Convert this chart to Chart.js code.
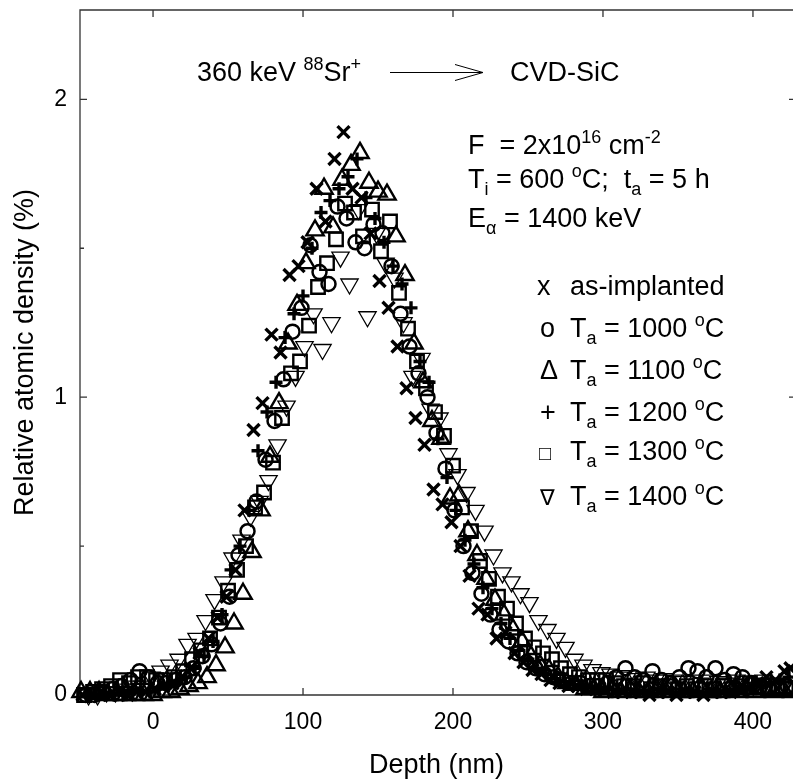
<!DOCTYPE html>
<html>
<head>
<meta charset="utf-8">
<script src="https://cdn.jsdelivr.net/npm/chart.js@4.4.0/dist/chart.umd.min.js"></script>
<style>
  html, body { margin: 0; padding: 0; background: #fff; }
  #wrap { width: 793px; height: 782px; }
</style>
</head>
<body>
<div id="wrap"><canvas id="chart" width="793" height="782"></canvas></div>
<script>
const FONT = '"Liberation Sans", Arial, Helvetica, sans-serif';

// Axis ticks
const xTicks = [0, 100, 200, 300, 400];
const yTicks = [0, 1, 2];
const yMinorTicks = [0.5, 1.5];

// as-implanted (x)
const depthAsImpl = [-47,-41,-35,-29,-23,-17,-11,-5,1,7,13,19,25,31,37,43,49,55,61,67,73,79,85,91,97,103,109,115,121,127,133,139,145,151,157,163,169,175,181,187,193,199,205,211,217,223,229,235,241,247,253,259,265,271,277,283,289,295,301,307,313,319,325,331,337,343,349,355,361,367,373,379,385,391,397,403,409,415,421,425];
const densAsImpl = [0,0,0.01,0,0.01,0,0.01,0.01,0.02,0.03,0.04,0.06,0.09,0.14,0.19,0.26,0.33,0.42,0.62,0.89,0.98,1.21,1.15,1.41,1.44,1.52,1.70,1.59,1.80,1.89,1.70,1.67,1.55,1.39,1.30,1.17,1.03,0.93,0.84,0.69,0.64,0.58,0.50,0.40,0.29,0.27,0.19,0.21,0.14,0.11,0.084,0.07,0.05,0.04,0.03,0.03,0.02,0.02,0.015,0.01,0.01,0.01,0.01,0,0.01,0.01,0,0.01,0.01,0,0.01,0.01,0.01,0.02,0.02,0.04,0.06,0.05,0.08,0.09];

// Ta = 1000 C (o)
const depth1000 = [-45,-39,-33,-27,-21,-15,-9,-3,3,9,15,21,27,33,39,45,51,57,63,69,75,81,87,93,99,105,111,117,123,129,135,141,147,153,159,165,171,177,183,189,195,201,207,213,219,225,231,237,243,249,255,261,267,273,279,285,291,297,303,309,315,321,327,333,339,345,351,357,363,369,375,381,387,393,399,405,411,417,423];
const dens1000 = [0,0,0.01,0.02,0.03,0.05,0.08,0.06,0.04,0.04,0.05,0.06,0.09,0.13,0.17,0.24,0.33,0.47,0.55,0.65,0.79,0.92,1.06,1.22,1.30,1.51,1.42,1.38,1.64,1.60,1.52,1.50,1.58,1.55,1.44,1.28,1.17,1.08,1.00,0.88,0.76,0.62,0.50,0.41,0.34,0.27,0.22,0.18,0.14,0.11,0.09,0.07,0.06,0.05,0.04,0.04,0.03,0.03,0.04,0.06,0.09,0.06,0.05,0.08,0.05,0.04,0.06,0.09,0.08,0.06,0.09,0.05,0.07,0.06,0.04,0.03,0.02,0.02,0.03];

// Ta = 1100 C (triangle up)
const depth1100 = [-48,-42,-36,-30,-24,-18,-12,-6,0,6,12,18,24,30,36,42,48,54,60,66,72,78,84,90,96,102,108,114,120,126,132,138,144,150,156,162,168,174,180,186,192,198,204,210,216,222,228,234,240,246,252,258,264,270,276,282,288,294,300,306,312,318,324,330,336,342,348,354,360,366,372,378,384,390,396,402,408,414,420,426];
const dens1100 = [0.01,0.01,0.01,0,0,0,0,0,0,0.01,0.01,0.02,0.03,0.04,0.06,0.10,0.16,0.24,0.34,0.48,0.62,0.80,0.98,1.18,1.31,1.45,1.56,1.70,1.57,1.73,1.78,1.82,1.72,1.69,1.68,1.54,1.41,1.18,1.05,0.92,0.86,0.66,0.67,0.55,0.47,0.39,0.32,0.27,0.22,0.18,0.13,0.10,0.085,0.06,0.04,0.034,0.02,0.02,0.01,0.02,0.01,0.02,0.01,0.01,0.02,0.01,0.02,0.01,0.01,0.02,0.01,0.01,0.02,0.01,0.02,0.01,0.02,0.01,0.02,0.01];

// Ta = 1200 C (+)
const depth1200 = [-44,-38,-32,-26,-20,-14,-8,-2,4,10,16,22,28,34,40,46,52,58,64,70,76,82,88,94,100,106,112,118,124,130,136,142,148,154,160,166,172,178,184,190,196,202,208,214,220,226,232,238,244,250,256,262,268,274,280,286,292,298,304,310,316,322,328,334,340,346,352,358,364,370,376,382,388,394,400,406,412,418,424];
const dens1200 = [0,0,0,0,0,0.01,0.01,0.01,0.02,0.03,0.04,0.06,0.09,0.13,0.18,0.27,0.42,0.50,0.62,0.82,0.95,1.05,1.20,1.28,1.34,1.50,1.62,1.66,1.70,1.74,1.80,1.67,1.60,1.52,1.44,1.38,1.30,1.12,1.05,0.86,0.73,0.62,0.52,0.44,0.36,0.29,0.24,0.19,0.15,0.12,0.09,0.07,0.055,0.045,0.035,0.03,0.025,0.02,0.02,0.01,0.02,0.01,0.01,0.02,0.01,0.01,0.02,0.01,0.01,0.02,0.01,0.01,0.02,0.02,0.03,0.03,0.04,0.05,0.06];

// Ta = 1300 C (square)
const depth1300 = [-46,-40,-34,-28,-22,-16,-10,-4,2,8,14,20,26,32,38,44,50,56,62,68,74,80,86,92,98,104,110,116,122,128,134,140,146,152,158,164,170,176,182,188,194,200,206,212,218,224,230,236,242,248,254,260,266,272,278,284,290,296,302,308,314,320,326,332,338,344,350,356,362,368,374,380,386,392,398,404,410,416,422];
const dens1300 = [0,0.01,0.02,0.03,0.05,0.04,0.06,0.06,0.05,0.05,0.06,0.08,0.12,0.15,0.19,0.26,0.35,0.42,0.50,0.63,0.68,0.78,0.93,1.08,1.12,1.24,1.37,1.45,1.53,1.65,1.62,1.54,1.63,1.49,1.59,1.35,1.23,1.12,1.03,0.95,0.87,0.77,0.63,0.55,0.45,0.39,0.33,0.29,0.24,0.19,0.16,0.14,0.12,0.09,0.07,0.06,0.05,0.05,0.05,0.04,0.03,0.03,0.04,0.02,0.03,0.03,0.02,0.03,0.02,0.03,0.02,0.03,0.02,0.03,0.04,0.03,0.02,0.03,0.02];

// Ta = 1400 C (triangle down)
const depth1400 = [-43,-37,-31,-25,-19,-13,-7,-1,5,11,17,23,29,35,41,47,53,59,65,71,77,83,89,95,101,107,113,119,125,131,137,143,149,155,161,167,173,179,185,191,197,203,209,215,221,227,233,239,245,251,257,263,269,275,281,287,293,299,305,311,317,323,329,335,341,347,353,359,365,371,377,383,389,395,401,407,413,419,425];
const dens1400 = [0,0,0.01,0.01,0.02,0.03,0.03,0.06,0.08,0.10,0.12,0.17,0.19,0.25,0.32,0.38,0.46,0.52,0.60,0.65,0.72,0.84,0.97,1.07,1.17,1.28,1.16,1.25,1.47,1.38,1.63,1.27,1.55,1.45,1.40,1.25,1.07,1.13,0.96,0.93,0.81,0.74,0.68,0.62,0.55,0.47,0.41,0.38,0.34,0.31,0.25,0.22,0.19,0.16,0.12,0.10,0.085,0.075,0.07,0.06,0.065,0.055,0.06,0.05,0.055,0.05,0.045,0.05,0.04,0.05,0.045,0.04,0.05,0.045,0.04,0.05,0.04,0.03,0.03];

function pts(xs, ys) {
    return xs.map((x, i) => ({ x: x, y: ys[i] }));
}

function markerSet(label, xs, ys, style, radius, width, rotation) {
    return {
        label: label,
        data: pts(xs, ys),
        pointStyle: style,
        pointRadius: radius,
        pointBorderWidth: width,
        pointRotation: rotation || 0,
        pointBorderColor: '#000',
        pointBackgroundColor: 'rgba(0,0,0,0)',
        showLine: false,
        clip: false
    };
}

// Draw a run of text pieces: 0 normal, 1 superscript, -1 subscript
function richText(ctx, x, y, parts, base) {
    const big = base || 27;
    ctx.textBaseline = 'alphabetic';
    ctx.textAlign = 'left';
    parts.forEach(([txt, kind]) => {
        const size = kind === 0 ? big : 18;
        const dy = kind === 1 ? -11 : (kind === -1 ? 7 : 0);
        ctx.font = size + 'px ' + FONT;
        ctx.fillText(txt, x, y + dy);
        x += ctx.measureText(txt).width;
    });
}

const framePlugin = {
    id: 'frame',
    beforeDatasetsDraw(chart) {
        const { ctx, chartArea: a, scales: { x, y } } = chart;
        ctx.save();
        ctx.strokeStyle = '#333';
        ctx.lineWidth = 1.3;
        ctx.beginPath();
        ctx.moveTo(a.right + 2, a.top);
        ctx.lineTo(a.left, a.top);
        ctx.lineTo(a.left, a.bottom);
        ctx.lineTo(a.right + 2, a.bottom);
        xTicks.forEach(v => {
            const px = x.getPixelForValue(v);
            ctx.moveTo(px, a.bottom); ctx.lineTo(px, a.bottom - 7);
            ctx.moveTo(px, a.top); ctx.lineTo(px, a.top + 7);
        });
        yTicks.forEach(v => {
            const py = y.getPixelForValue(v);
            ctx.moveTo(a.left, py); ctx.lineTo(a.left + 7, py);
            ctx.moveTo(a.right, py); ctx.lineTo(a.right - 4, py);
        });
        yMinorTicks.forEach(v => {
            const py = y.getPixelForValue(v);
            ctx.moveTo(a.left, py); ctx.lineTo(a.left + 4, py);
        });
        ctx.stroke();
        ctx.restore();
    },
    afterDraw(chart) {
        const ctx = chart.ctx;
        ctx.save();
        ctx.fillStyle = '#000';
        ctx.strokeStyle = '#000';

        // beam / target line
        richText(ctx, 197, 81, [['360 keV ', 0], ['88', 1], ['Sr', 0], ['+', 1]]);
        ctx.lineWidth = 1;
        ctx.beginPath();
        ctx.moveTo(390, 72.5); ctx.lineTo(483, 72.5);
        ctx.moveTo(455, 64.5); ctx.lineTo(483, 72.5); ctx.lineTo(455, 80.5);
        ctx.stroke();
        richText(ctx, 510, 81, [['CVD-SiC', 0]]);

        // conditions
        richText(ctx, 468, 154, [['F  = 2x10', 0], ['16', 1], [' cm', 0], ['-2', 1]]);
        richText(ctx, 468, 188, [['T', 0], ['i', -1], [' = 600 ', 0], ['o', 1], ['C;  t', 0], ['a', -1], [' = 5 h', 0]]);
        richText(ctx, 468, 227, [['E', 0], ['\u03b1', -1], [' = 1400 keV', 0]]);

        // legend (text symbols)
        const rows = [
            ['x', 537, 295, 27, 'as-implanted'],
            ['o', 540, 337, 27, '1000'],
            ['\u0394', 540, 379, 27, '1100'],
            ['+', 540, 421, 27, '1200'],
            ['\u25a1', 539, 460, 20, '1300'],
            ['\u2207', 540, 505, 22, '1400']
        ];
        rows.forEach(([sym, sx, by, fs, t]) => {
            richText(ctx, sx, by, [[sym, 0]], fs);
            if (t === 'as-implanted') {
                richText(ctx, 570, by, [[t, 0]]);
            } else {
                richText(ctx, 570, by, [['T', 0], ['a', -1], [' = ' + t + ' ', 0], ['o', 1], ['C', 0]]);
            }
        });
        ctx.restore();
    }
};

new Chart(document.getElementById('chart'), {
    type: 'scatter',
    data: {
        datasets: [
            markerSet('as-implanted', depthAsImpl, densAsImpl, 'crossRot', 8.5, 3.4),
            markerSet('Ta = 1000 C', depth1000, dens1000, 'circle', 7, 2.5),
            markerSet('Ta = 1100 C', depth1100, dens1100, 'triangle', 10, 2.4),
            markerSet('Ta = 1200 C', depth1200, dens1200, 'cross', 6.5, 3.4),
            markerSet('Ta = 1300 C', depth1300, dens1300, 'rect', 9.5, 2.4),
            markerSet('Ta = 1400 C', depth1400, dens1400, 'triangle', 10, 1.3, 180)
        ]
    },
    options: {
        responsive: false,
        animation: false,
        layout: { autoPadding: false, padding: { top: 10, right: 0, left: 0, bottom: 0 } },
        plugins: { legend: { display: false }, tooltip: { enabled: false } },
        scales: {
            x: {
                type: 'linear',
                min: -48.7,
                max: 426.7,
                afterBuildTicks: s => { s.ticks = xTicks.map(v => ({ value: v })); },
                afterFit: s => { s.height = 87; s.paddingLeft = 0; s.paddingRight = 0; },
                grid: { display: false, drawTicks: false },
                border: { display: false },
                ticks: { color: '#000', font: { size: 23, family: FONT }, padding: 14, maxRotation: 0 },
                title: { display: true, text: 'Depth (nm)', color: '#000', font: { size: 27, family: FONT }, padding: { top: 0, bottom: 0 } }
            },
            y: {
                type: 'linear',
                min: 0,
                max: 2.3,
                afterBuildTicks: s => { s.ticks = yTicks.map(v => ({ value: v })); },
                afterFit: s => { s.width = 80; s.paddingTop = 0; s.paddingBottom = 0; },
                grid: { display: false, drawTicks: false },
                border: { display: false },
                ticks: { color: '#000', font: { size: 23, family: FONT }, padding: 13 },
                title: { display: true, text: 'Relative atomic density (%)', color: '#000', font: { size: 27, family: FONT }, padding: { top: 9, bottom: 0 } }
            }
        }
    },
    plugins: [framePlugin]
});
</script>
</body>
</html>
